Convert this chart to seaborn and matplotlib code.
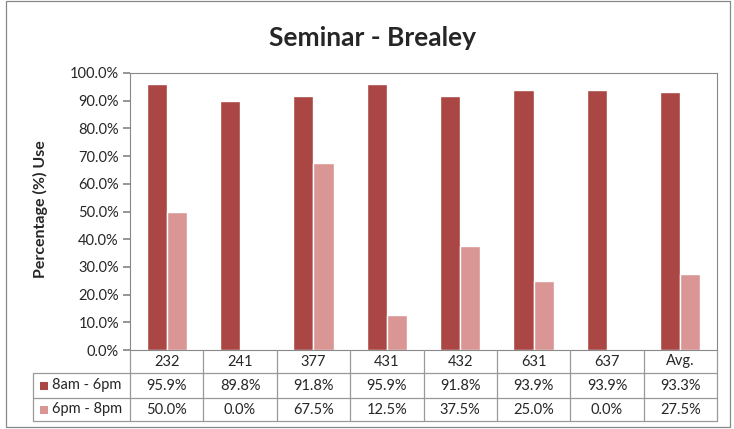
import matplotlib
matplotlib.use("Agg")
import matplotlib.pyplot as plt
import seaborn as sns
import pandas as pd
from matplotlib.patches import Rectangle
from matplotlib.lines import Line2D

rooms = ["232", "241", "377", "431", "432", "631", "637", "Avg."]
series_names = ["8am - 6pm", "6pm - 8pm"]
day_use = [95.9, 89.8, 91.8, 95.9, 91.8, 93.9, 93.9, 93.3]
evening_use = [50.0, 0.0, 67.5, 12.5, 37.5, 25.0, 0.0, 27.5]
colors = ["#AA4643", "#D99694"]

sns.set_theme(style="white")
plt.rcParams["font.family"] = ["Lato", "DejaVu Sans"]

df = pd.DataFrame({
    "room": rooms * 2,
    "period": [series_names[0]] * len(rooms) + [series_names[1]] * len(rooms),
    "value": day_use + evening_use,
})

W, H = 734, 429
fig = plt.figure(figsize=(W / 100, H / 100), dpi=100)

def fx(px):
    return px / W

def fy(py):
    return 1 - py / H

FS = 10.5
left, right, top, bottom = 130, 717, 73, 350
ax = fig.add_axes([fx(left), fy(bottom), fx(right - left), fy(top) - fy(bottom)])
sns.barplot(data=df, x="room", y="value", hue="period", palette=colors,
            width=0.55, gap=0, saturation=1, legend=False, ax=ax, order=rooms)
ax.set_xlim(-0.5, len(rooms) - 0.5)
ax.set_ylim(0, 100)
ax.set_yticks(range(0, 101, 10))
ax.set_yticklabels([f"{v:.1f}%" for v in range(0, 101, 10)], fontsize=FS)
ax.set_xticks([])
ax.set_xlabel("")
ax.set_ylabel("")
ax.tick_params(axis="y", which="both", left=True, length=5, color="#888888", direction="out", pad=3)
for s in ax.spines.values():
    s.set_color("#888888")
    s.set_linewidth(0.8)

fig.text(fx(40), fy(209), "Percentage (%) Use", rotation=90, ha="center", va="center",
         fontsize=11.5, fontweight="bold")

fig.suptitle("Seminar - Brealey", x=fx(372), y=fy(38), va="center",
             fontsize=19, fontweight="bold")

# data table
tleft = 33
row_y = [350, 373, 398, 421]
unit = (right - left) / len(rooms)
lc = "#999999"
lw = 0.9
def hline(x0, x1, y):
    fig.add_artist(Line2D([fx(x0), fx(x1)], [fy(y), fy(y)], color=lc, lw=lw))
def vline(x, y0, y1):
    fig.add_artist(Line2D([fx(x), fx(x)], [fy(y0), fy(y1)], color=lc, lw=lw))

hline(tleft, right, row_y[1])
hline(tleft, right, row_y[2])
hline(tleft, right, row_y[3])
vline(tleft, row_y[1], row_y[3])
for i in range(len(rooms) + 1):
    vline(left + i * unit, row_y[0], row_y[3])

for i, r in enumerate(rooms):
    cx = left + (i + 0.5) * unit
    fig.text(fx(cx), fy((row_y[0] + row_y[1]) / 2), r, ha="center", va="center", fontsize=FS)
    fig.text(fx(cx), fy((row_y[1] + row_y[2]) / 2), f"{day_use[i]:.1f}%", ha="center", va="center", fontsize=FS)
    fig.text(fx(cx), fy((row_y[2] + row_y[3]) / 2), f"{evening_use[i]:.1f}%", ha="center", va="center", fontsize=FS)

for k, name in enumerate(series_names):
    ymid = (row_y[k + 1] + row_y[k + 2]) / 2
    fig.add_artist(Rectangle((fx(40), fy(ymid + 4)), fx(8), fy(ymid - 4) - fy(ymid + 4),
                             facecolor=colors[k], edgecolor="none"))
    fig.text(fx(52), fy(ymid), name, ha="left", va="center", fontsize=FS)

# outer chart border
fig.add_artist(Rectangle((fx(6), fy(427)), fx(724), fy(1) - fy(427), fill=False,
                         edgecolor="#888888", lw=0.9))

fig.savefig("out.png", dpi=100)
